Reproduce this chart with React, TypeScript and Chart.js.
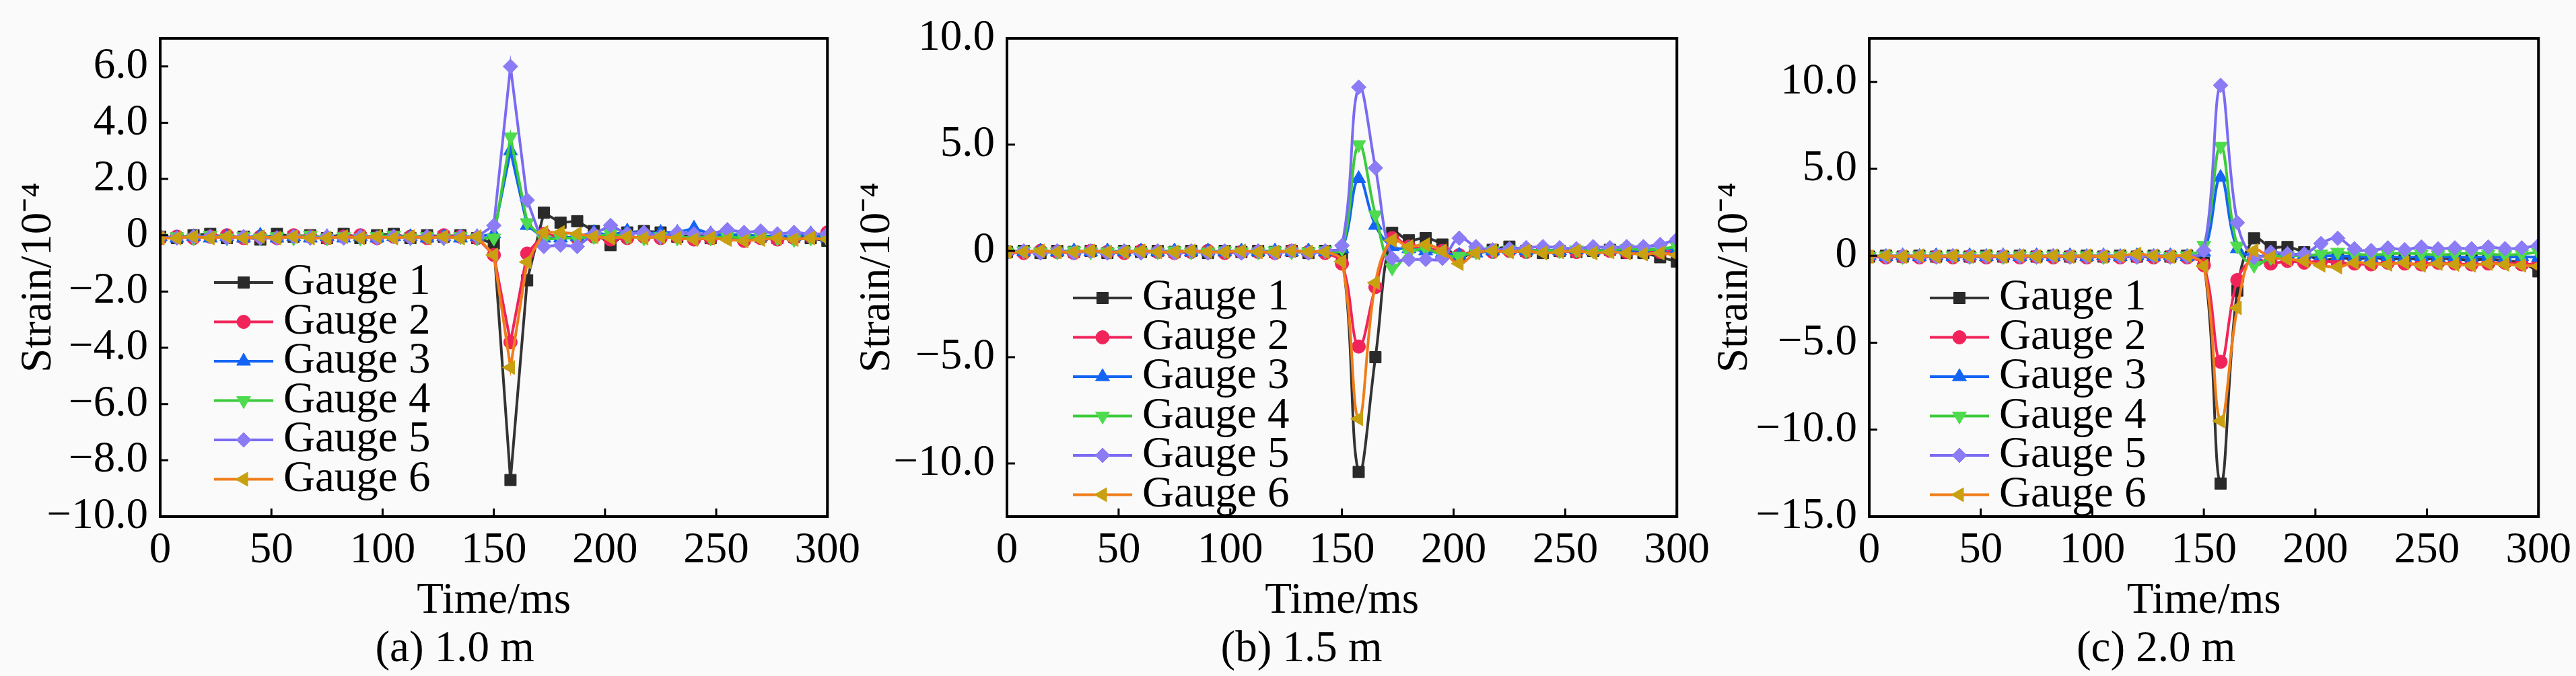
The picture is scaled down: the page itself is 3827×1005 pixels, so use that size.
import React, { useEffect, useRef } from "react";
import Chart from "chart.js/auto";
import { drawPoint } from "chart.js/helpers";

// sampling times (ms)
const timeMs = [
  0, 7.5, 15, 22.5, 30, 37.5, 45, 52.5, 60, 67.5, 75, 82.5, 90, 97.5, 105,
  112.5, 120, 127.5, 135, 142.5, 150, 157.5, 165, 172.5, 180, 187.5, 195,
  202.5, 210, 217.5, 225, 232.5, 240, 247.5, 255, 262.5, 270, 277.5, 285,
  292.5, 300,
];

const gaugeNames = ["Gauge 1", "Gauge 2", "Gauge 3", "Gauge 4", "Gauge 5", "Gauge 6"];
const xTicks = [0, 50, 100, 150, 200, 250, 300];

// (a) 1.0 m
const yTicksA = [-10, -8, -6, -4, -2, 0, 2, 4, 6];
const a1 = [-0.05, -0.1, 0.0, 0.05, -0.1, -0.05, -0.15, 0.05, -0.05, 0.0, -0.1, 0.05, -0.1, 0.0, 0.05, -0.1, 0.0, -0.05, 0.0, -0.1, -0.3, -8.7, -1.6, 0.8, 0.45, 0.5, 0.15, -0.35, 0.1, 0.15, 0.1, -0.05, 0.0, -0.1, 0.0, -0.1, -0.05, -0.1, -0.05, -0.1, -0.2];
const a2 = [-0.1, -0.05, -0.1, -0.05, 0.0, -0.1, -0.05, -0.1, 0.0, -0.05, -0.1, -0.05, 0.0, -0.1, -0.05, -0.05, -0.1, 0.0, -0.05, -0.1, -0.7, -3.8, -0.65, 0.05, -0.05, -0.1, -0.05, -0.15, -0.1, -0.05, -0.1, -0.05, -0.15, -0.1, -0.05, -0.2, -0.1, -0.15, -0.1, -0.05, 0.1];
const a3 = [-0.05, -0.1, -0.05, -0.1, -0.05, -0.1, 0.0, -0.1, -0.05, -0.1, -0.05, -0.1, -0.05, -0.1, -0.05, -0.05, -0.1, -0.05, -0.1, -0.05, 0.05, 3.0, 0.35, -0.1, -0.1, -0.05, 0.1, 0.0, 0.15, 0.05, 0.1, 0.1, 0.25, 0.05, 0.0, 0.05, -0.05, 0.0, -0.05, 0.05, -0.1];
const a4 = [-0.1, -0.05, -0.1, 0.0, -0.1, -0.05, -0.1, -0.05, -0.1, 0.0, -0.1, -0.05, -0.1, -0.05, 0.0, -0.1, -0.05, -0.1, -0.05, -0.1, -0.1, 3.5, 0.45, -0.15, -0.1, -0.1, -0.05, 0.05, -0.05, -0.1, -0.05, -0.1, -0.05, -0.1, -0.05, -0.1, -0.05, -0.1, -0.15, -0.1, -0.15];
const a5 = [-0.05, -0.1, -0.05, -0.05, -0.1, -0.05, -0.1, -0.1, -0.05, -0.1, -0.05, -0.1, -0.05, -0.1, -0.05, -0.1, -0.05, -0.1, -0.05, -0.05, 0.35, 6.0, 1.25, -0.4, -0.35, -0.4, 0.05, 0.35, 0.05, 0.1, -0.05, 0.1, 0.05, 0.05, 0.2, 0.1, 0.15, 0.05, 0.1, 0.05, 0.05];
const a6 = [-0.1, -0.1, -0.05, -0.1, -0.05, -0.1, -0.05, -0.1, -0.05, -0.1, -0.1, -0.05, -0.1, -0.05, -0.1, -0.05, -0.1, -0.05, -0.1, -0.05, -0.7, -4.7, -0.95, 0.1, 0.1, 0.05, -0.05, -0.1, -0.05, -0.1, -0.05, -0.1, -0.15, -0.1, -0.15, -0.2, -0.15, -0.1, -0.15, -0.1, -0.15];

// (b) 1.5 m
const yTicksB = [-10, -5, 0, 5, 10];
const b1 = [-0.05, 0.0, -0.1, 0.0, -0.05, 0.0, -0.1, 0.0, -0.05, 0.0, -0.05, 0.0, -0.1, 0.0, -0.05, 0.0, -0.05, 0.0, -0.1, 0.0, -0.2, -10.4, -5.0, 0.85, 0.5, 0.6, 0.3, -0.3, 0.0, 0.05, 0.2, 0.0, -0.1, 0.0, -0.05, 0.0, 0.05, -0.1, -0.1, -0.3, -0.5];
const b2 = [-0.05, -0.1, 0.0, -0.05, -0.1, 0.0, -0.05, -0.1, 0.0, -0.05, -0.1, -0.05, 0.0, -0.1, -0.05, -0.05, -0.1, 0.0, -0.05, -0.1, -0.6, -4.5, -1.7, 0.6, 0.2, 0.1, 0.0, -0.2, 0.0, -0.05, 0.0, -0.05, 0.05, 0.0, -0.05, 0.05, 0.0, -0.05, 0.0, -0.05, 0.0];
const b3 = [0.0, -0.05, 0.0, -0.05, 0.0, -0.05, 0.0, -0.05, 0.0, -0.05, 0.0, -0.05, 0.0, -0.05, 0.0, -0.05, 0.0, -0.05, 0.0, -0.05, 0.1, 3.4, 1.2, 0.2, 0.1, 0.0, -0.1, -0.2, -0.1, 0.0, 0.05, 0.0, 0.05, 0.0, 0.05, 0.0, 0.05, 0.0, 0.05, 0.1, 0.1];
const b4 = [-0.05, 0.0, -0.05, -0.05, 0.0, -0.05, -0.05, 0.0, -0.05, -0.05, 0.0, -0.05, -0.05, 0.0, -0.05, -0.05, 0.0, -0.05, -0.05, 0.0, 0.1, 5.0, 1.7, -0.8, -0.1, 0.1, -0.2, -0.25, -0.05, 0.0, 0.05, 0.0, 0.05, 0.0, 0.05, 0.0, 0.05, 0.1, 0.05, 0.1, 0.2];
const b5 = [-0.1, 0.0, -0.1, 0.0, -0.1, 0.0, -0.1, 0.0, -0.1, 0.0, -0.1, 0.0, -0.1, 0.0, -0.1, 0.0, -0.1, 0.0, -0.1, 0.0, 0.25, 7.7, 3.9, -0.35, -0.4, -0.4, -0.35, 0.6, 0.2, 0.05, 0.1, 0.15, 0.2, 0.15, 0.1, 0.2, 0.15, 0.2, 0.2, 0.3, 0.55];
const b6 = [-0.05, -0.05, 0.0, -0.05, -0.05, 0.0, -0.05, -0.05, 0.0, -0.05, -0.05, 0.0, -0.05, -0.05, 0.0, -0.05, -0.05, 0.0, -0.05, -0.05, -0.5, -7.9, -1.5, 0.5, 0.2, 0.3, 0.0, -0.6, -0.1, 0.0, -0.05, 0.0, -0.1, -0.05, 0.0, -0.1, -0.05, -0.1, -0.15, -0.1, -0.2];

// (c) 2.0 m
const yTicksC = [-15, -10, -5, 0, 5, 10];
const c1 = [-0.05, 0.0, -0.05, 0.0, -0.05, 0.0, -0.05, 0.0, -0.05, 0.0, -0.05, 0.0, -0.05, 0.0, -0.05, 0.0, -0.05, 0.0, -0.05, 0.0, -0.4, -13.1, -2.0, 1.0, 0.5, 0.5, 0.2, -0.3, -0.1, -0.2, -0.1, -0.2, -0.15, -0.2, -0.15, -0.2, -0.25, -0.2, -0.3, -0.4, -0.9];
const c2 = [-0.05, -0.1, -0.05, -0.1, -0.05, -0.1, -0.05, -0.1, -0.05, -0.1, -0.05, -0.1, -0.05, -0.1, -0.05, -0.1, -0.05, -0.1, -0.05, -0.1, -0.55, -6.1, -1.4, -0.2, -0.45, -0.3, -0.4, -0.3, -0.4, -0.45, -0.5, -0.4, -0.45, -0.5, -0.4, -0.45, -0.5, -0.45, -0.4, -0.5, -0.45];
const c3 = [0.0, -0.05, 0.0, -0.05, 0.0, -0.05, 0.0, -0.05, 0.0, -0.05, 0.0, -0.05, 0.0, -0.05, 0.0, -0.05, 0.0, -0.05, 0.0, -0.05, 0.2, 4.5, 0.4, 0.0, 0.0, 0.1, 0.05, 0.0, 0.0, -0.05, -0.1, -0.05, -0.1, -0.05, -0.1, -0.05, -0.1, -0.05, -0.1, -0.05, -0.1];
const c4 = [-0.05, 0.0, -0.05, 0.0, -0.05, 0.0, -0.05, 0.0, -0.05, 0.0, -0.05, 0.0, -0.05, 0.0, -0.05, 0.0, -0.05, 0.0, -0.05, 0.0, 0.6, 6.3, 0.55, -0.55, -0.1, 0.0, 0.0, 0.1, 0.2, 0.1, 0.05, 0.1, 0.15, 0.1, 0.05, 0.1, 0.15, 0.1, 0.05, 0.1, 0.2];
const c5 = [-0.05, -0.05, 0.0, -0.05, -0.05, 0.0, -0.05, -0.05, 0.0, -0.05, -0.05, 0.0, -0.05, -0.05, 0.0, -0.05, -0.05, 0.0, -0.05, -0.05, 0.3, 9.8, 1.9, -0.1, 0.2, 0.1, 0.1, 0.7, 1.0, 0.4, 0.3, 0.45, 0.35, 0.5, 0.4, 0.45, 0.4, 0.5, 0.4, 0.45, 0.6];
const c6 = [-0.05, 0.0, -0.05, 0.0, -0.05, 0.0, -0.05, 0.0, -0.05, 0.0, -0.05, 0.0, -0.05, 0.0, -0.05, 0.0, 0.1, 0.0, -0.05, 0.0, -0.6, -9.5, -3.0, 0.3, -0.1, -0.2, -0.3, -0.55, -0.65, -0.4, -0.45, -0.5, -0.4, -0.55, -0.45, -0.5, -0.55, -0.45, -0.5, -0.55, -0.6];

const FONT = "'Liberation Serif', 'Times New Roman', serif";
const FONT_SIZE = 65;

const lineColors = ["#333333", "#f0245a", "#1464f4", "#3ccb3c", "#7a6bf2", "#f07d1a"];
const markerColors = ["#2a2a2a", "#f0245a", "#1464f4", "#4edb4e", "#8b7cf6", "#c8a010"];
const markerStyles = ["rect", "circle", "triangle", "triangle", "rectRot", "triangle"];
const markerRotations = [0, 0, 0, 180, 0, -90];
const markerRadii = [12, 10, 12, 12, 11, 12];

const fmtStrain = (v: number) =>
  v === 0 ? "0" : v.toFixed(1).replace("-", "\u2212");

// box around the plot with inward tick marks
const framePlugin = {
  id: "frame",
  afterDatasetsDraw(chart: any) {
    const { ctx, chartArea, scales } = chart;
    const { left, right, top, bottom } = chartArea;
    ctx.save();
    ctx.strokeStyle = "#000";
    ctx.lineWidth = 3;
    ctx.beginPath();
    scales.x.ticks.forEach((t: any) => {
      const px = scales.x.getPixelForValue(t.value);
      ctx.moveTo(px, bottom);
      ctx.lineTo(px, bottom - 12);
    });
    scales.y.ticks.forEach((t: any) => {
      const py = scales.y.getPixelForValue(t.value);
      ctx.moveTo(left, py);
      ctx.lineTo(left + 12, py);
    });
    ctx.stroke();
    ctx.lineWidth = 4;
    ctx.strokeRect(left, top, right - left, bottom - top);
    ctx.restore();
  },
};

// Origin-style legend (line + marker + label) inside the plot, and the panel caption
const gaugeLegend = {
  id: "gaugeLegend",
  afterDraw(chart: any, _args: any, opts: any) {
    const { ctx, chartArea } = chart;
    const x0 = chartArea.left + opts.x;
    const font = `normal ${FONT_SIZE}px ${FONT}`;
    chart.data.datasets.forEach((ds: any, i: number) => {
      const y = chartArea.top + opts.y + i * opts.gap;
      ctx.save();
      ctx.strokeStyle = ds.borderColor;
      ctx.lineWidth = ds.borderWidth;
      ctx.beginPath();
      ctx.moveTo(x0, y);
      ctx.lineTo(x0 + 88, y);
      ctx.stroke();
      ctx.fillStyle = ds.pointBackgroundColor;
      ctx.strokeStyle = ds.pointBorderColor;
      ctx.lineWidth = 1;
      drawPoint(
        ctx,
        { pointStyle: ds.pointStyle, rotation: ds.pointRotation, radius: ds.pointRadius, borderWidth: 1 },
        x0 + 44,
        y
      );
      ctx.fillStyle = "#000";
      ctx.font = font;
      ctx.textAlign = "left";
      ctx.textBaseline = "middle";
      ctx.fillText(ds.label, x0 + 103, y);
      ctx.restore();
    });
    ctx.save();
    ctx.fillStyle = "#000";
    ctx.font = font;
    ctx.textAlign = "center";
    ctx.textBaseline = "middle";
    ctx.fillText(
      opts.caption,
      (chartArea.left + chartArea.right) / 2 + opts.captionDx,
      chartArea.bottom + 198
    );
    ctx.restore();
  },
};

type PanelProps = {
  series: number[][];
  yMin: number;
  yMax: number;
  yTicks: number[];
  caption: string;
  smooth: boolean;
  left: number;
  width: number;
  titlePad: number;
  legendX: number;
  legendY: number;
  captionDx: number;
};

const Panel = (props: PanelProps) => {
  const { series, yMin, yMax, yTicks, caption, smooth, left, width, titlePad, legendX, legendY, captionDx } = props;
  const canvasRef = useRef<HTMLCanvasElement | null>(null);

  useEffect(() => {
    if (!canvasRef.current) return;
    const font = { family: FONT, size: FONT_SIZE, weight: "normal" as const };
    const chart = new Chart(canvasRef.current, {
      type: "line",
      data: {
        labels: timeMs,
        datasets: series.map((values, i) => ({
          label: gaugeNames[i],
          data: values,
          borderColor: lineColors[i],
          borderWidth: 4,
          backgroundColor: markerColors[i],
          pointBackgroundColor: markerColors[i],
          pointBorderColor: markerColors[i],
          pointBorderWidth: 1,
          pointStyle: markerStyles[i],
          pointRotation: markerRotations[i],
          pointRadius: markerRadii[i],
          tension: smooth ? 0.4 : 0,
          fill: false,
          order: series.length - i,
        })),
      },
      options: {
        responsive: false,
        animation: false,
        events: [],
        layout: { padding: { top: 40, right: 50, bottom: 72, left: 0 } },
        scales: {
          x: {
            type: "linear",
            min: 0,
            max: 300,
            afterBuildTicks: (s: any) => {
              s.ticks = xTicks.map((v) => ({ value: v }));
            },
            afterFit: (s: any) => {
              s.height = 165;
            },
            grid: { display: false, drawTicks: false },
            border: { display: false },
            ticks: { padding: 12, color: "#000", font, autoSkip: false, maxRotation: 0 },
            title: { display: true, text: "Time/ms", color: "#000", font, padding: 0 },
          },
          y: {
            type: "linear",
            min: yMin,
            max: yMax,
            afterBuildTicks: (s: any) => {
              s.ticks = yTicks.map((v) => ({ value: v }));
            },
            afterFit: (s: any) => {
              s.width = 238;
            },
            grid: { display: false, drawTicks: false },
            border: { display: false },
            ticks: {
              padding: 18,
              color: "#000",
              font,
              callback: (v: any) => fmtStrain(Number(v)),
            },
            title: {
              display: true,
              text: "Strain/10\u207b\u2074",
              color: "#000",
              font,
              padding: { top: titlePad, bottom: 0 },
            },
          },
        },
        plugins: {
          legend: { display: false },
          tooltip: { enabled: false },
          gaugeLegend: { x: legendX, y: legendY, gap: 58.5, caption, captionDx },
        } as any,
      },
      plugins: [framePlugin, gaugeLegend],
    });

    return () => {
      chart.destroy();
    };
  }, [series, yMin, yMax, yTicks, caption, smooth, titlePad, legendX, legendY, captionDx]);

  return (
    <canvas
      ref={canvasRef}
      width={width}
      height={1005}
      style={{ position: "absolute", left, top: 0, width, height: 1005 }}
    />
  );
};

const seriesA = [a1, a2, a3, a4, a5, a6];
const seriesB = [b1, b2, b3, b4, b5, b6];
const seriesC = [c1, c2, c3, c4, c5, c6];

export default function App() {
  return (
    <div
      style={{
        position: "absolute",
        left: 0,
        top: 0,
        width: 3827,
        height: 1005,
        overflow: "hidden",
        background: "#fafafa",
      }}
    >
      <Panel series={seriesA} yMin={-10} yMax={7} yTicks={yTicksA} caption="(a) 1.0 m" smooth={false}
        left={0} width={1290} titlePad={19} legendX={80} legendY={363} captionDx={-58} />
      <Panel series={seriesB} yMin={-12.5} yMax={10} yTicks={yTicksB} caption="(b) 1.5 m" smooth={true}
        left={1258} width={1294} titlePad={7} legendX={98} legendY={386} captionDx={-60} />
      <Panel series={seriesC} yMin={-15} yMax={12.5} yTicks={yTicksC} caption="(c) 2.0 m" smooth={true}
        left={2539} width={1293} titlePad={0} legendX={90} legendY={386} captionDx={-71} />
    </div>
  );
}
